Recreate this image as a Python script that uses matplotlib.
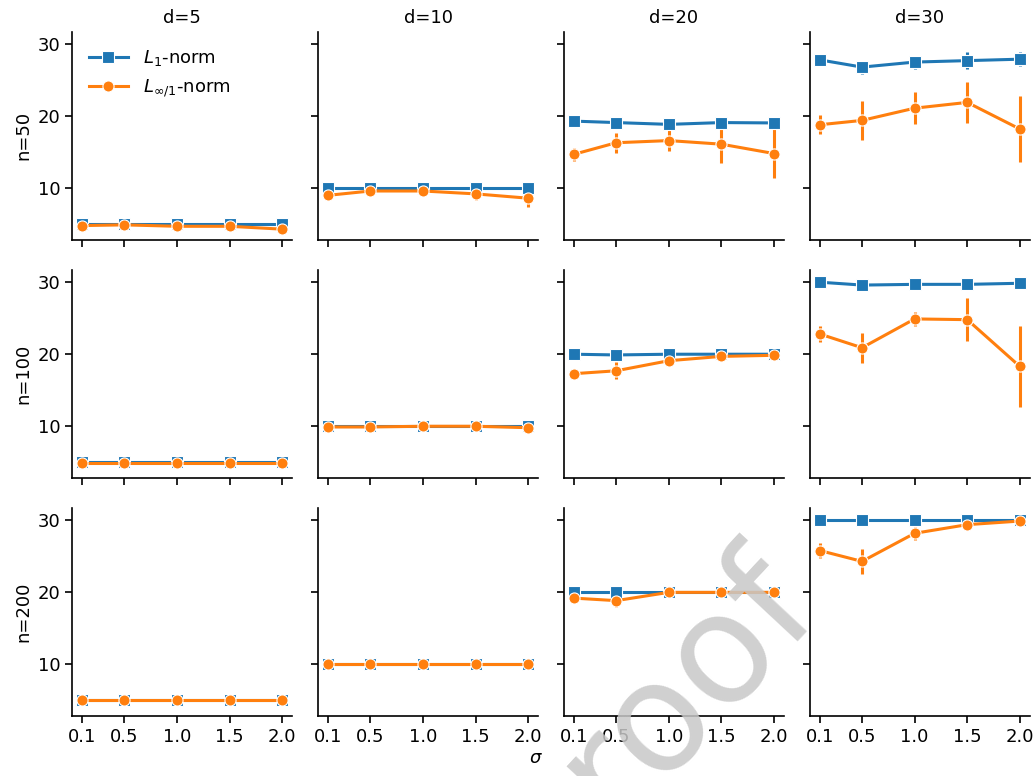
import matplotlib.pyplot as plt
from matplotlib.lines import Line2D

sigmas = [0.1, 0.5, 1.0, 1.5, 2.0]
dims = [5, 10, 20, 30]
sizes = [50, 100, 200]

# rows: n, columns: d
l1_mean = [
    [[5, 5, 5, 5, 5], [10, 10, 10, 10, 10],
     [19.3, 19.1, 18.85, 19.1, 19.05], [27.8, 26.8, 27.5, 27.7, 27.9]],
    [[5, 5, 5, 5, 5], [10, 10, 10, 10, 10],
     [20, 19.9, 20, 20, 20], [30, 29.6, 29.7, 29.7, 29.85]],
    [[5, 5, 5, 5, 5], [10, 10, 10, 10, 10],
     [20, 20, 20, 20, 20], [30, 30, 30, 30, 30]],
]
l1_err = [
    [[0, 0, 0, 0, 0.2], [0, 0, 0, 0, 0],
     [0.1, 0.1, 0.2, 0.1, 0.1], [0.7, 0.9, 0.9, 1.2, 1.0]],
    [[0, 0, 0, 0, 0], [0, 0, 0, 0, 0],
     [0, 0.1, 0, 0, 0], [0.1, 0.1, 0.1, 0.1, 0.1]],
    [[0, 0, 0, 0, 0], [0, 0, 0, 0, 0],
     [0, 0, 0, 0, 0], [0, 0, 0, 0, 0]],
]
linf_mean = [
    [[4.8, 4.9, 4.7, 4.7, 4.3], [9.0, 9.6, 9.6, 9.2, 8.6],
     [14.7, 16.3, 16.6, 16.1, 14.8], [18.8, 19.4, 21.1, 21.9, 18.2]],
    [[4.95, 4.95, 4.95, 4.95, 4.95], [9.9, 9.9, 10, 10, 9.8],
     [17.3, 17.7, 19.1, 19.7, 19.85], [22.8, 20.9, 24.9, 24.8, 18.3]],
    [[5, 5, 5, 5, 5], [10, 10, 10, 10, 10],
     [19.2, 18.85, 20, 20, 20], [25.8, 24.3, 28.2, 29.4, 29.9]],
]
linf_err = [
    [[0.1, 0.1, 0.2, 0.2, 0.5], [0.2, 0.2, 0.2, 0.8, 1.2],
     [0.9, 1.4, 1.5, 2.6, 3.4], [1.3, 2.7, 2.2, 2.8, 4.6]],
    [[0, 0, 0, 0, 0], [0.1, 0.1, 0.1, 0.1, 0.2],
     [0.3, 1.2, 0.3, 0.2, 0.1], [1.1, 2.1, 1.0, 3.0, 5.6]],
    [[0, 0, 0, 0, 0], [0, 0, 0, 0, 0],
     [0.3, 0.9, 0.2, 0.1, 0.1], [1.0, 1.75, 0.9, 0.3, 0.2]],
]

plt.rcParams['font.size'] = 13
blue = '#1f77b4'
orange = '#ff7f0e'
style = dict(markersize=8, markeredgecolor='white', markeredgewidth=0.8,
             lw=2.2)

fig, axes = plt.subplots(3, 4, figsize=(10.34, 7.76), dpi=100,
                         sharex=True, sharey=True)
fig.subplots_adjust(left=0.07, right=0.996, top=0.959, bottom=0.077,
                    wspace=0.118, hspace=0.144)

for i, n in enumerate(sizes):
    for j, d in enumerate(dims):
        ax = axes[i, j]
        ax.errorbar(sigmas, l1_mean[i][j], yerr=l1_err[i][j], color=blue,
                    marker='s', elinewidth=2.2, **style)
        ax.errorbar(sigmas, linf_mean[i][j], yerr=linf_err[i][j], color=orange,
                    marker='o', elinewidth=2.2, **style)
        ax.spines['top'].set_visible(False)
        ax.spines['right'].set_visible(False)
        ax.spines['left'].set_linewidth(1.2)
        ax.spines['bottom'].set_linewidth(1.2)
        ax.tick_params(width=1.2, length=5)
        if i == 0:
            ax.set_title('d=%d' % d, fontsize=13)
        if j == 0:
            ax.set_ylabel('n=%d' % n, fontsize=13)

ax0 = axes[0, 0]
ax0.set_ylim(2.8, 31.7)
ax0.set_xticks(sigmas)
ax0.set_xticklabels(['0.1', '0.5', '1.0', '1.5', '2.0'])
ax0.set_yticks([10, 20, 30])
handles = [Line2D([], [], color=blue, marker='s', **style),
           Line2D([], [], color=orange, marker='o', **style)]
ax0.legend(handles, ['$L_1$-norm', '$L_{\\infty/1}$-norm'], loc='upper left',
           frameon=False, fontsize=13, handlelength=2.2)

fig.text(0.518, 0.012, '$\\sigma$', ha='center', va='bottom', fontsize=13)

# watermark
fig.text(0.632, 0.072, 'proof', rotation=47, fontsize=110, color='#c8c8c8',
         ha='center', va='center', alpha=0.85)

fig.savefig('out.png')
